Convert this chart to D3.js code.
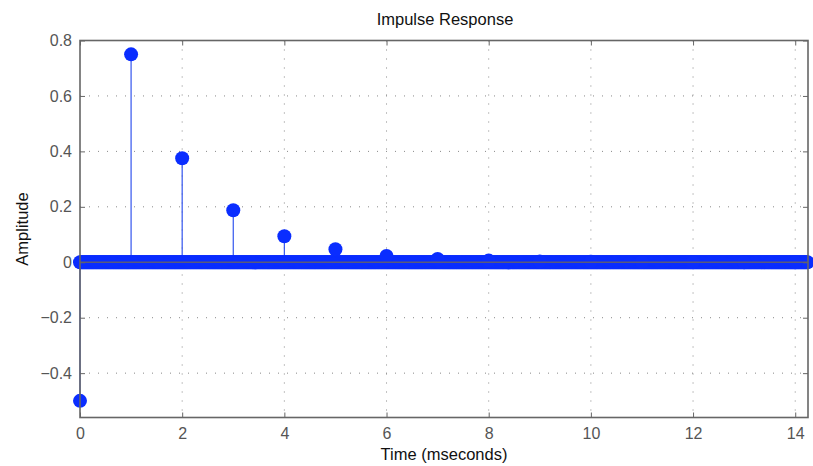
<!DOCTYPE html>
<html><head><meta charset="utf-8">
<script src="https://cdn.jsdelivr.net/npm/d3@7/dist/d3.min.js"></script>
<style>body{margin:0;background:#fff}svg{display:block}</style>
</head><body><svg id="c" width="813" height="466"></svg>
<script>
// Impulse response samples at integer ms
const stemTimes = [0,1,2,3,4,5,6,7,8,9,10,11,12,13,14];
const stemValues = [-0.5,0.75,0.375,0.1875,0.094,0.047,0.023,0.012,0.006,0.003,0.0015,0.0007,0.0004,0.0002,0.0001];
// dense zero-valued samples between integers (the thick band on zero)
const zeroTimes = d3.range(0, 14.26, 0.02);
const xTicks = [0,2,4,6,8,10,12,14];
const yTicks = [-0.4,-0.2,0,0.2,0.4,0.6,0.8];
const xDomain = [0, 14.25];
const yDomain = [-0.56, 0.8];

const svg = d3.select("#c");
const L=80, R=808, T=40.5, B=417.5;
const x = d3.scaleLinear().domain(xDomain).range([L,R]);
const y = d3.scaleLinear().domain(yDomain).range([B,T]);
const font = "'Liberation Sans', Arial, Helvetica, sans-serif";
const axisCol = "#666", blue = "#0a2dff";

// grid
const g = svg.append("g");
g.selectAll(".gx").data(xTicks.filter(d=>d>0)).join("line")
 .attr("x1",d=>x(d)).attr("x2",d=>x(d)).attr("y1",T).attr("y2",B)
 .attr("stroke","#888").attr("stroke-width",1).attr("stroke-dasharray","1,8");
g.selectAll(".gy").data(yTicks).join("line")
 .attr("y1",d=>y(d)).attr("y2",d=>y(d)).attr("x1",L).attr("x2",R)
 .attr("stroke","#888").attr("stroke-width",1).attr("stroke-dasharray","1,8");

// stems
const samples = zeroTimes.map(t=>({t, v:0}));
stemTimes.forEach((t,i)=>samples.push({t, v:stemValues[i]}));
svg.append("g").selectAll("line").data(stemTimes.map((t,i)=>({t,v:stemValues[i]}))).join("line")
 .attr("x1",d=>x(d.t)).attr("x2",d=>x(d.t)).attr("y1",y(0)).attr("y2",d=>y(d.v))
 .attr("stroke","#3355ee").attr("stroke-width",1.2);

// markers
svg.append("g").selectAll("circle").data(samples).join("circle")
 .attr("cx",d=>x(d.t)).attr("cy",d=>y(d.v)).attr("r",7).attr("fill",blue);

// baseline
svg.append("line").attr("x1",L).attr("x2",R).attr("y1",y(0)).attr("y2",y(0))
 .attr("stroke","#5a5a7a").attr("stroke-width",1.5);

// axes frame and ticks
const ax = svg.append("g");
const xb = d3.axisBottom(x).tickValues(xTicks).tickSize(-5).tickPadding(10).tickFormat(d3.format("d"));
const yl = d3.axisLeft(y).tickValues(yTicks).tickSize(-5).tickPadding(8)
 .tickFormat(d=> d===0 ? "0" : d3.format(".1f")(d).replace("-","\u2212"));
ax.append("g").attr("transform",`translate(0,${B})`).call(xb);
ax.append("g").attr("transform",`translate(0,${T})`).call(d3.axisTop(x).tickValues(xTicks).tickSize(-5).tickFormat(""));
ax.append("g").attr("transform",`translate(${L},0)`).call(yl);
ax.append("g").attr("transform",`translate(${R},0)`).call(d3.axisRight(y).tickValues(yTicks).tickSize(-5).tickFormat(""));
ax.selectAll(".domain").remove();
ax.selectAll(".tick line").attr("stroke",axisCol).attr("stroke-width",1);
ax.selectAll("text").attr("fill","#555").style("font-family",font).style("font-size","16px");
svg.append("rect").attr("x",L).attr("y",T).attr("width",R-L).attr("height",B-T)
 .attr("fill","none").attr("stroke",axisCol).attr("stroke-width",1.6);

// labels
svg.append("text").attr("x",(L+R)/2+1).attr("y",25).attr("text-anchor","middle")
 .style("font-family",font).style("font-size","16.5px").attr("fill","#111").text("Impulse Response");
svg.append("text").attr("x",(L+R)/2).attr("y",460).attr("text-anchor","middle")
 .style("font-family",font).style("font-size","16.5px").attr("fill","#111").text("Time (mseconds)");
svg.append("text").attr("transform",`translate(28,229) rotate(-90)`).attr("text-anchor","middle")
 .style("font-family",font).style("font-size","16.5px").attr("fill","#111").text("Amplitude");
</script></body></html>
